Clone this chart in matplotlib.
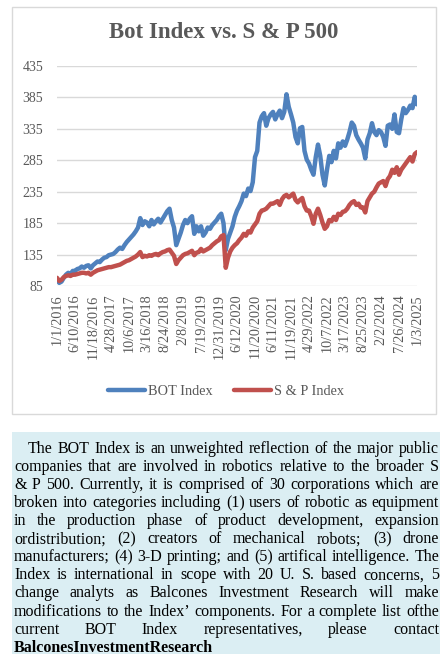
import matplotlib
matplotlib.use("Agg")
import matplotlib.pyplot as plt
import numpy as np
from matplotlib.patches import Rectangle

# ---------------- data ----------------
tick_labels = ["1/1/2016", "6/10/2016", "11/18/2016", "4/28/2017", "10/6/2017",
               "3/16/2018", "8/24/2018", "2/8/2019", "7/19/2019", "12/31/2019",
               "6/12/2020", "11/20/2020", "6/11/2021", "11/19/2021", "4/29/2022",
               "10/7/2022", "3/17/2023", "8/25/2023", "2/2/2024", "7/26/2024",
               "1/3/2025"]

bot_index = [95, 90, 92, 98, 103, 106, 104, 109,
             109, 112, 113, 116, 114, 117, 118, 113,
             118, 121, 124, 123, 127, 130, 131, 134,
             135, 136, 139, 143, 146, 144, 150, 155,
             159, 163, 167, 172, 178, 193, 182, 188,
             186, 180, 190, 183, 188, 192, 186, 192,
             198, 204, 208, 190, 178, 150, 160, 170,
             182, 190, 185, 192, 196, 168, 180, 172,
             180, 165, 170, 178, 176, 182, 186, 190,
             196, 200, 185, 142, 160, 170, 180, 195,
             205, 212, 220, 232, 228, 240, 236, 250,
             290, 300, 345, 355, 360, 340, 352, 358,
             362, 350, 358, 364, 352, 362, 390, 370,
             358, 345, 322, 312, 336, 338, 300, 286,
             280, 270, 262, 290, 310, 292, 262, 245,
             270, 292, 282, 300, 288, 312, 305, 315,
             308, 318, 330, 345, 340, 325, 318, 312,
             305, 288, 318, 328, 344, 330, 325, 333,
             330, 322, 308, 340, 342, 335, 358, 330,
             328, 350, 368, 360, 365, 372, 368, 386, 374]

sp_index = [98, 93, 95, 99, 101, 102, 101, 103,
            103, 104, 105, 106, 106, 105, 106, 103,
            106, 108, 110, 111, 112, 113, 114, 115,
            115, 116, 117, 118, 119, 121, 123, 125,
            126, 128, 130, 132, 135, 139, 131, 133,
            132, 134, 133, 135, 136, 134, 137, 139,
            140, 142, 143, 138, 133, 120, 126, 130,
            134, 136, 137, 139, 141, 134, 138, 139,
            144, 140, 142, 144, 146, 150, 153, 156,
            158, 164, 166, 114, 130, 140, 146, 150,
            153, 158, 162, 168, 165, 172, 170, 178,
            183, 188, 200, 205, 206, 208, 212, 216,
            216, 218, 220, 214, 223, 228, 230, 226,
            229, 232, 222, 218, 222, 225, 212, 205,
            205, 196, 184, 200, 208, 198, 186, 176,
            180, 190, 188, 195, 190, 200, 198, 203,
            204, 208, 214, 218, 220, 214, 216, 210,
            210, 202, 220, 226, 232, 235, 242, 248,
            250, 252, 244, 255, 260, 270, 265, 274,
            262, 270, 275, 280, 285, 290, 283, 295, 298]

y_ticks = [85, 135, 185, 235, 285, 335, 385, 435]

title = "Bot Index vs. S & P 500"
series_names = ["BOT Index", "S & P Index"]

para_lines = [
    "The BOT Index is an unweighted reflection of the major public",
    "companies that are involved in robotics relative to the broader S",
    "& P 500. Currently, it is comprised of 30 corporations which are",
    "broken into categories including (1) users of robotic as equipment",
    "in the production phase of product development, expansion",
    "ordistribution; (2) creators of mechanical robots; (3) drone",
    "manufacturers; (4) 3-D printing; and (5) artifical intelligence. The",
    "Index is international in scope with 20 U. S. based concerns, 5",
    "change analyts as Balcones Investment Research will make",
    "modifications to the Index\u2019 components. For a  complete list ofthe",
    "current BOT Index representatives, please contact",
]
last_line = "BalconesInvestmentResearch"

# ---------------- figure ----------------
W, H = 442, 662
plt.rcParams['font.family'] = ['Liberation Serif', 'DejaVu Serif']
fig = plt.figure(figsize=(W / 100, H / 100), dpi=100)
fig.patch.set_facecolor('white')

def fx(px):
    return px / W

def fy(py):
    return 1 - py / H

# chart border
fig.patches.append(Rectangle((fx(12), fy(414)), (436 - 12) / W, (414 - 7) / H,
                             transform=fig.transFigure, fill=False,
                             edgecolor='#D9D9D9', lw=1))

ax = fig.add_axes([fx(57), fy(286), 360 / W, 220 / H])
x = np.arange(len(bot_index))
ax.plot(x, bot_index, color='#4F81BD', lw=3.2, label=series_names[0],
        solid_joinstyle='round', solid_capstyle='round')
ax.plot(x, sp_index, color='#C0504D', lw=3.2, label=series_names[1],
        solid_joinstyle='round', solid_capstyle='round')
ax.set_xlim(0, len(x) - 1)
ax.set_ylim(85, 435)
ax.set_yticks(y_ticks)
ax.yaxis.grid(True, color='#D9D9D9', lw=1)
ax.set_axisbelow(True)
for s in ax.spines.values():
    s.set_visible(False)
ax.set_facecolor('none')
step = (len(x) - 1) / (len(tick_labels) - 1)
ax.set_xticks([i * step for i in range(len(tick_labels))])
ax.set_xticklabels(tick_labels, rotation=90, va='top', ha='center')
ax.tick_params(axis='both', length=0, colors='#595959')
ax.tick_params(axis='x', labelsize=10.3, pad=6)
ax.tick_params(axis='y', labelsize=10, pad=10)

fig.text(fx(224), fy(33), title, ha='center', va='center', fontsize=16.5,
         fontweight='bold', color='#595959')

leg = fig.legend(loc='center', bbox_to_anchor=(fx(226), fy(391)), ncol=2,
                 frameon=False, fontsize=10.3, handlelength=2.6,
                 columnspacing=1.5, handletextpad=0.2)
for t in leg.get_texts():
    t.set_color('#595959')

# text box
fig.patches.append(Rectangle((fx(12), fy(654)), (440 - 12) / W, (654 - 432) / H,
                             transform=fig.transFigure, facecolor='#DBEEF3',
                             edgecolor='none'))

fig.canvas.draw()
r = fig.canvas.get_renderer()

def width(s, fs, weight='normal'):
    t = fig.text(0, 0, s, fontsize=fs, fontweight=weight)
    w = t.get_window_extent(renderer=r).width
    t.remove()
    return w

base_fs = 10.0
space_w = width("a a", base_fs) - width("aa", base_fs)
x_left, x_right, indent = 14, 439, 28
nat = []
for i, line in enumerate(para_lines):
    words = line.split()
    tot = sum(width(w, base_fs) for w in words) + space_w * (len(words) - 1)
    avail = x_right - (indent if i == 0 else x_left)
    nat.append(tot / avail)
fs = base_fs / max(nat) * 0.995

y0, dy = 453, 18.06
for i, line in enumerate(para_lines):
    words = line.split()
    ws = [width(w, fs) for w in words]
    start = indent if i == 0 else x_left
    gap = (x_right - start - sum(ws)) / (len(words) - 1)
    xp = start
    for w, ww in zip(words, ws):
        fig.text(fx(xp), fy(y0 + i * dy), w, fontsize=fs, ha='left',
                 va='baseline', color='black')
        xp += ww + gap
fig.text(fx(x_left), fy(y0 + 11 * dy), last_line, fontsize=fs,
         fontweight='bold', ha='left', va='baseline', color='black')

fig.savefig("out.png", dpi=100)
